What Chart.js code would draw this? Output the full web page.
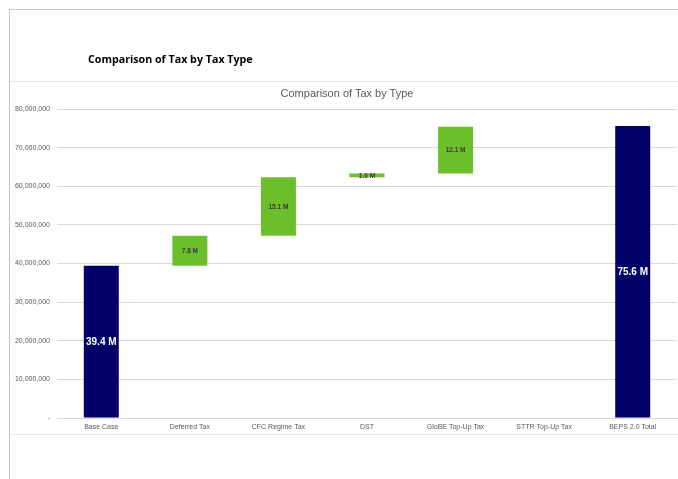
<!DOCTYPE html>
<html>
<head>
<meta charset="utf-8">
<script src="https://cdn.jsdelivr.net/npm/chart.js@4"></script>
<style>
  html, body { margin:0; padding:0; background:#fff; }
  body { width:678px; height:479px; position:relative; overflow:hidden; }
  #wrap { position:absolute; left:0; top:0; width:678px; height:479px; }
  .line { position:absolute; }
  #mainTitle { position:absolute; left:88px; top:52px; font-family:"Open Sans", "Liberation Sans", sans-serif; font-weight:700; font-size:10.7px; color:#000; white-space:nowrap; }
  #chartTitle { position:absolute; left:0; width:694px; text-align:center; top:87px; font-family:"Liberation Sans", Arial, sans-serif; font-size:11px; color:#595959; white-space:nowrap; }
</style>
</head>
<body>
<div id="wrap">
  <canvas id="c" width="678" height="479" style="position:absolute;left:0;top:0;width:678px;height:479px;"></canvas>
  <div class="line" style="left:9px;top:9px;width:669px;height:1px;background:#c4c4c4;"></div>
  <div class="line" style="left:9px;top:9px;width:1px;height:470px;background:#c4c4c4;"></div>
  <div class="line" style="left:10px;top:81px;width:668px;height:1px;background:#e2e2e2;"></div>
  <div class="line" style="left:10px;top:434px;width:668px;height:1px;background:#e8e8e8;"></div>
  <div id="mainTitle">Comparison of Tax by Tax Type</div>
  <div id="chartTitle">Comparison of Tax by Type</div>
</div>
<script>
const categories = ["Base Case", "Deferred Tax", "CFC Regime Tax", "DST", "GloBE Top-Up Tax", "STTR Top-Up Tax", "BEPS 2.0 Total"];
const amounts = [39.4, 7.8, 15.1, 1.0, 12.1, 0, 75.6];   // millions
const isTotal = [true, false, false, false, false, false, true];
const valueLabels = ["39.4 M", "7.8 M", "15.1 M", "1.0 M", "12.1 M", "", "75.6 M"];
const yTicks = [0, 10000000, 20000000, 30000000, 40000000, 50000000, 60000000, 70000000, 80000000];

// waterfall ranges built from the amounts
const ranges = [];
let running = 0;
for (let i = 0; i < amounts.length; i++) {
  if (isTotal[i]) { ranges.push([0, amounts[i] * 1e6]); running = amounts[i]; }
  else { ranges.push([running * 1e6, (running + amounts[i]) * 1e6]); running += amounts[i]; }
}
const NAVY = "#000066", GREEN = "#6cbe2a";

const labelPlugin = {
  id: "barLabels",
  afterDatasetsDraw(chart) {
    const ctx = chart.ctx;
    const meta = chart.getDatasetMeta(0);
    meta.data.forEach((bar, i) => {
      const txt = valueLabels[i];
      if (!txt) return;
      const cy = (bar.y + bar.base) / 2;
      ctx.save();
      ctx.textAlign = "center";
      ctx.textBaseline = "middle";
      if (isTotal[i]) {
        ctx.font = "bold 10px 'Liberation Sans', Arial, sans-serif";
        ctx.fillStyle = "#ffffff";
      } else {
        ctx.font = "bold 6.5px 'Liberation Sans', Arial, sans-serif";
        ctx.fillStyle = "#3a3a3a";
      }
      ctx.fillText(txt, bar.x, cy + 0.5);
      ctx.restore();
    });
  }
};

new Chart(document.getElementById("c"), {
  type: "bar",
  data: {
    labels: categories,
    datasets: [{
      data: ranges,
      backgroundColor: isTotal.map(t => t ? NAVY : GREEN),
      borderWidth: 0,
      borderSkipped: false,
      categoryPercentage: 1,
      barPercentage: 0.395
    }]
  },
  options: {
    responsive: false,
    animation: false,
    devicePixelRatio: 1,
    layout: { padding: { top: 109, left: 9, right: 1, bottom: 45 } },
    plugins: { legend: { display: false }, tooltip: { enabled: false }, title: { display: false } },
    scales: {
      x: {
        grid: { display: false, drawTicks: false },
        border: { display: true, color: "#d9d9d9" },
        ticks: { color: "#595959", font: { family: "'Liberation Sans', Arial, sans-serif", size: 7 }, padding: 5, maxRotation: 0, autoSkip: false },
        afterFit(s) { s.height = 16; }
      },
      y: {
        min: 0, max: 80000000,
        afterBuildTicks(s) { s.ticks = yTicks.map(v => ({ value: v })); },
        grid: { color: "#d9d9d9", drawTicks: false },
        border: { display: false },
        ticks: {
          color: "#595959",
          font: { family: "'Liberation Sans', Arial, sans-serif", size: 7 },
          padding: 7,
          callback: v => v === 0 ? "-" : Number(v).toLocaleString("en-US")
        },
        afterFit(s) { s.width = 48; }
      }
    }
  },
  plugins: [labelPlugin]
});
</script>
</body>
</html>
